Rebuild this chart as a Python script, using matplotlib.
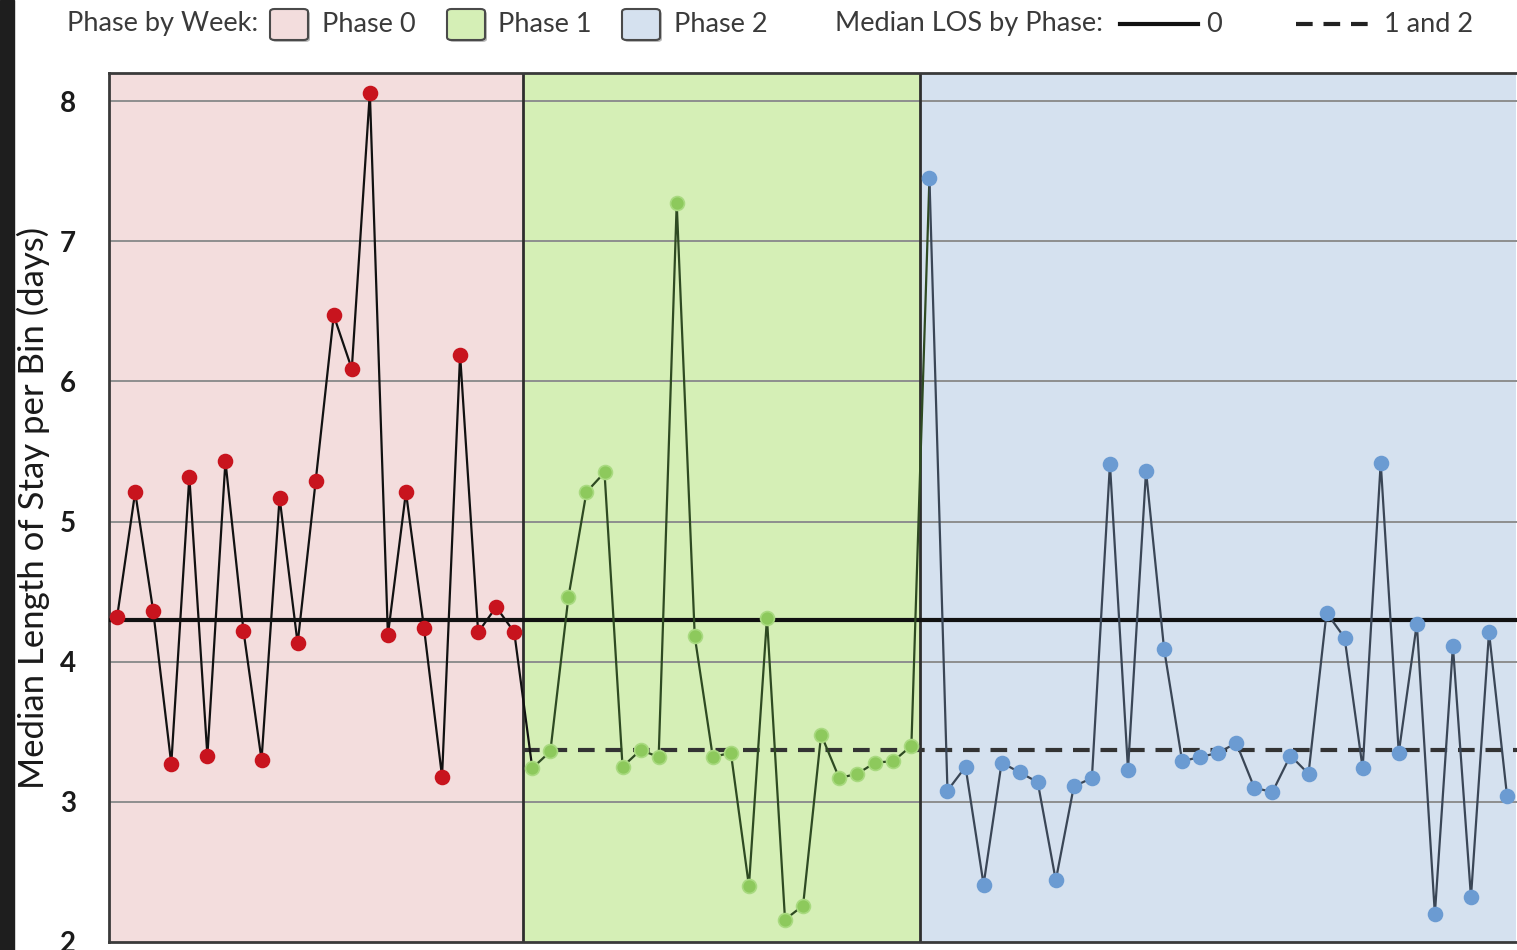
import numpy as np
import matplotlib.pyplot as plt
from matplotlib.patches import Rectangle, FancyBboxPatch
from matplotlib.lines import Line2D

# median length of stay per bin, by phase
phase0_los = [4.32, 5.21, 4.36, 3.27, 5.32, 3.33, 5.43, 4.22, 3.30, 5.17, 4.13, 5.29,
              6.47, 6.09, 8.06, 4.19, 5.21, 4.24, 3.18, 6.19, 4.21, 4.39, 4.21]
phase1_los = [3.24, 3.36, 4.46, 5.21, 5.35, 3.25, 3.37, 3.32, 7.27, 4.18, 3.32, 3.35,
              2.40, 4.31, 2.16, 2.26, 3.48, 3.17, 3.20, 3.28, 3.29, 3.40]
phase2_los = [7.45, 3.08, 3.25, 2.41, 3.28, 3.21, 3.14, 2.44, 3.11, 3.17, 5.41, 3.23,
              5.36, 4.09, 3.29, 3.32, 3.35, 3.42, 3.10, 3.07, 3.33, 3.20, 4.35, 4.17,
              3.24, 5.42, 3.35, 4.27, 2.20, 4.11, 2.32, 4.21, 3.04]
median_phase0 = 4.30
median_phase12 = 3.37
yticks = [2, 3, 4, 5, 6, 7, 8]
phase_labels = ['Phase 0', 'Phase 1', 'Phase 2']

bg_colors = ['#f3dddd', '#d5efb6', '#d5e1ef']
line_colors = ['#111111', '#2e4a22', '#3a4656']
marker_face = ['#c8141e', '#8dc95c', '#6b9bd2']
marker_edge = ['#c8141e', '#a9da80', '#6b9bd2']

W, H = 1517, 950
FONT = 'Lato'

def fx(px):
    return px / W

def fy(py):
    return 1 - py / H

fig = plt.figure(figsize=(15.17, 9.5), dpi=100)
fig.patches.append(Rectangle((0, 0), fx(14), 1, transform=fig.transFigure,
                             color='#1e1e1e', zorder=0))

ax = fig.add_axes([fx(109), 1 - 942 / H, 1 - fx(109), (942 - 73) / H])

phases = [phase0_los, phase1_los, phase2_los]
starts = np.cumsum([0] + [len(p) for p in phases])
n_total = starts[-1]

# background bands per phase
for i in range(3):
    ax.axvspan(starts[i] - 0.5, starts[i + 1] - 0.5, color=bg_colors[i], lw=0, zorder=0)

# horizontal grid lines
for y in yticks[1:]:
    ax.axhline(y, color='#8e8e8e', lw=1.4, zorder=1)

# phase dividers
for s in starts[1:-1]:
    ax.axvline(s - 0.5, color='#2e2e2e', lw=2.0, zorder=2)

# median lines
ax.plot([-0.5, n_total], [median_phase0] * 2, color='#111111', lw=3, zorder=3,
        solid_capstyle='butt')
ax.plot([starts[1] - 0.5, n_total], [median_phase12] * 2, color='#333333', lw=3,
        dashes=(4, 2.6), zorder=3)

# data lines: each phase line runs on to the first point of the next phase
all_vals = phase0_los + phase1_los + phase2_los
for i in range(3):
    end = min(starts[i + 1] + 1, n_total)
    xs = np.arange(starts[i], end)
    ax.plot(xs, all_vals[starts[i]:end], color=line_colors[i], lw=1.6, zorder=4)
for i in range(3):
    xs = np.arange(starts[i], starts[i + 1])
    ax.plot(xs, phases[i], ls='none', marker='o', ms=10, mfc=marker_face[i],
            mec=marker_edge[i], mew=1.2, zorder=5)

ax.set_xlim(-0.45, 77.55)
ax.set_ylim(2, 8.2)
ax.set_yticks(yticks)
ax.set_yticklabels([str(t) for t in yticks], fontsize=20, fontweight='bold',
                   family=FONT, color='#1a1a1a')
ax.tick_params(axis='y', length=0, pad=24)
ax.set_xticks([])
ax.set_ylabel('Median Length of Stay per Bin (days)', fontsize=25, family=FONT,
              color='#1a1a1a')
ax.yaxis.set_label_coords((50 - 109) / (W - 109), 0.5)
ax.spines['right'].set_visible(False)
for side in ['top', 'left', 'bottom']:
    ax.spines[side].set_color('#3a3a3a')
    ax.spines[side].set_linewidth(2)

# legend strip across the top
legend_y = fy(24)
txt = dict(fontsize=19.5, family=FONT, color='#3a3a3a', va='center', ha='left')
fig.text(fx(67), legend_y, 'Phase by Week:', **txt)
box_x = [270, 447, 622]
label_x = [322, 498, 674]
for i in range(3):
    fig.patches.append(FancyBboxPatch((fx(box_x[i] + 2), fy(42)), fx(38), 31 / H,
                                      boxstyle='round,pad=0,rounding_size=0.003',
                                      transform=fig.transFigure, facecolor='#777777',
                                      edgecolor='none', alpha=0.5))
    fig.patches.append(FancyBboxPatch((fx(box_x[i]), fy(40)), fx(38), 31 / H,
                                      boxstyle='round,pad=0,rounding_size=0.003',
                                      transform=fig.transFigure, facecolor=bg_colors[i],
                                      edgecolor='#4a4a4a', lw=1.5))
    fig.text(fx(label_x[i]), legend_y, phase_labels[i], **txt)

fig.text(fx(835), legend_y, 'Median LOS by Phase:', **txt)
fig.lines.append(Line2D([fx(1120), fx(1198)], [legend_y, legend_y], color='#111111',
                        lw=3, transform=fig.transFigure))
fig.text(fx(1206), legend_y, '0', **txt)
fig.lines.append(Line2D([fx(1296), fx(1378)], [legend_y, legend_y], color='#222222',
                        lw=3, dashes=(4, 2.6), transform=fig.transFigure))
fig.text(fx(1384), legend_y, '1 and 2', **txt)

fig.savefig('out.png', dpi=100)
